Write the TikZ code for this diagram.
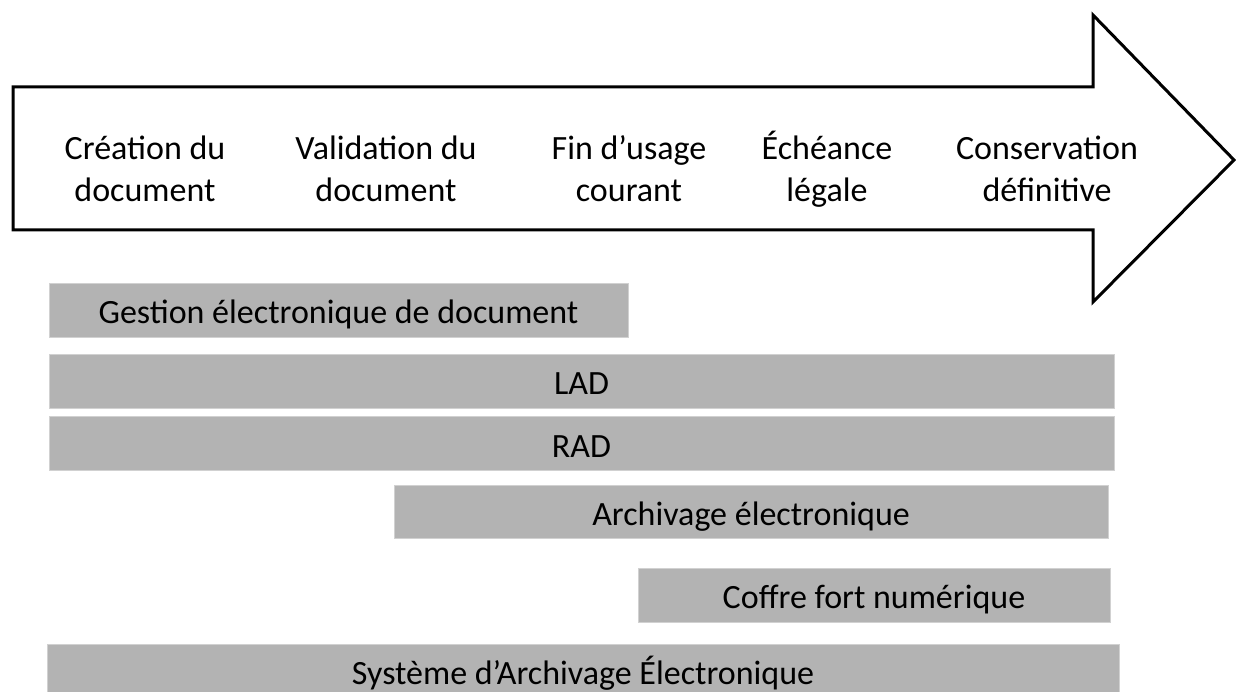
\documentclass[tikz,border=0pt]{standalone}
\usepackage{fontspec}
\setmainfont{Carlito}
\usepackage{tikz}
\usetikzlibrary{positioning,calc}
\definecolor{bargray}{HTML}{B3B3B3}
\newcommand\lblstrut{\rule[-11pt]{0pt}{41pt}}

\tikzset{
  stage/.style={align=center, inner sep=0pt, font=\fontsize{34}{40}\selectfont},
  bar/.style={fill=bargray, draw=bargray!60!white, line width=0.8pt,
    minimum height=54pt, inner sep=0pt, text height=32pt, text depth=5pt,
    font=\fontsize{34}{40}\selectfont}
}

\begin{document}
\begin{tikzpicture}[x=1pt,y=-1pt]
    \useasboundingbox (0,0) rectangle (1236,692);

    % Timeline arrow
    \draw[line width=3pt, line join=miter]
        (13,87) -- (1093,87) -- (1093,15) -- (1234,160) -- (1093,302)
        -- (1093,230) -- (13,230) -- cycle;

    % Stages of the document life
    \node[stage] (creation) at (145,171.5) {\lblstrut Création du\\\lblstrut document};
    \node[stage] (validation) at (386,171.5) {\lblstrut Validation du\\\lblstrut document};
    \node[stage] (usage) at (629,171.5) {\lblstrut Fin d’usage\\\lblstrut courant};
    \node[stage] (legal) at (827,171.5) {\lblstrut Échéance\\\lblstrut légale};
    \node[stage] (conserv) at (1047,171.5) {\lblstrut Conservation\\\lblstrut définitive};

    % Tools covering each period
    \node[bar, minimum width=579pt] (ged) at (338.5,310) {Gestion électronique de document};
    \node[bar, minimum width=1065pt] (lad) at (581.5,381) {LAD};
    \node[bar, minimum width=1065pt] (rad) at (581.5,443.5) {RAD};
    \node[bar, minimum width=714pt, minimum height=53pt] (archiv) at (751,512) {Archivage électronique};
    \node[bar, minimum width=472pt] (coffre) at (874,595) {Coffre fort numérique};
    \node[bar, minimum width=1072pt] (sae) at (583,671) {Système d’Archivage Électronique};
\end{tikzpicture}
\end{document}
